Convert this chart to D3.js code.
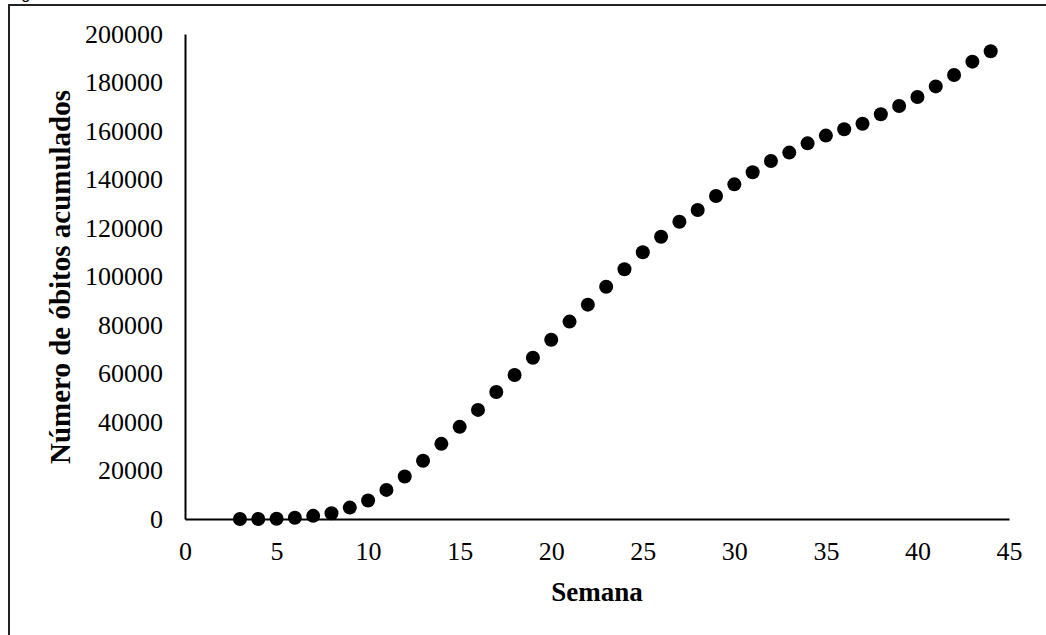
<!DOCTYPE html>
<html>
<head>
<meta charset="utf-8">
<script src="https://cdn.jsdelivr.net/npm/d3@7"></script>
<style>
  body { margin: 0; background: #fff; }
  svg { display: block; font-family: "Times New Roman", "Liberation Serif", serif; }
</style>
</head>
<body>
<svg id="chart" width="1046" height="635"></svg>
<script>
// Semanas (eixo x) e óbitos acumulados (eixo y)
const semanas = [3, 4, 5, 6, 7, 8, 9, 10, 11, 12, 13, 14, 15, 16, 17, 18, 19, 20, 21, 22, 23,
  24, 25, 26, 27, 28, 29, 30, 31, 32, 33, 34, 35, 36, 37, 38, 39, 40, 41, 42, 43, 44];
const obitos = [0, 0, 100, 500, 1300, 2400, 4700, 7600, 12000, 17500, 24000, 31000, 38000,
  45000, 52400, 59400, 66500, 73900, 81400, 88400, 95800, 103000, 110000, 116400, 122600,
  127400, 133200, 138000, 143000, 147600, 151100, 154900, 158100, 160700, 163000, 166900,
  170300, 174000, 178400, 183100, 188600, 192900];
const xTicks = [0, 5, 10, 15, 20, 25, 30, 35, 40, 45];
const yTicks = [0, 20000, 40000, 60000, 80000, 100000, 120000, 140000, 160000, 180000, 200000];

const svg = d3.select('#chart');

// moldura (cortada à direita e em baixo)
svg.append('path')
  .attr('d', 'M9,1200 V5 H1200')
  .attr('fill', 'none')
  .attr('stroke', '#222')
  .attr('stroke-width', 2);

// legenda da figura, quase toda fora da área visível
svg.append('text')
  .attr('x', 8)
  .attr('y', -1)
  .style('font-family', 'Arial, "Liberation Sans", sans-serif')
  .style('font-size', '16px')
  .text('Figura');

const x = d3.scaleLinear().domain([0, 45]).range([185, 1009]);
const y = d3.scaleLinear().domain([0, 200000]).range([519, 34]);

const xAxis = svg.append('g')
  .attr('transform', 'translate(0,519)')
  .call(d3.axisBottom(x).tickValues(xTicks).tickSize(0).tickSizeOuter(0).tickPadding(23));

const yAxis = svg.append('g')
  .attr('transform', 'translate(185,0)')
  .call(d3.axisLeft(y).tickValues(yTicks).tickSize(0).tickSizeOuter(0).tickPadding(22).tickFormat(d3.format('d')));

[xAxis, yAxis].forEach(g => {
  g.select('.domain').attr('stroke', '#000').attr('stroke-width', 2);
  g.selectAll('text')
    .attr('fill', '#000')
    .style('font-family', '"Times New Roman", "Liberation Serif", serif')
    .style('font-size', '26px');
});

// pontos
svg.append('g')
  .selectAll('circle')
  .data(semanas.map((s, i) => ({ s, v: obitos[i] })))
  .enter()
  .append('circle')
  .attr('cx', d => x(d.s))
  .attr('cy', d => y(d.v))
  .attr('r', 7)
  .attr('fill', '#000');

// títulos dos eixos
svg.append('text')
  .attr('x', 597)
  .attr('y', 601)
  .attr('text-anchor', 'middle')
  .style('font-weight', 'bold')
  .style('font-size', '27px')
  .text('Semana');

svg.append('text')
  .attr('transform', 'translate(70,277) rotate(-90)')
  .attr('text-anchor', 'middle')
  .style('font-weight', 'bold')
  .style('font-size', '29px')
  .text('Número de óbitos acumulados');
</script>
</body>
</html>
